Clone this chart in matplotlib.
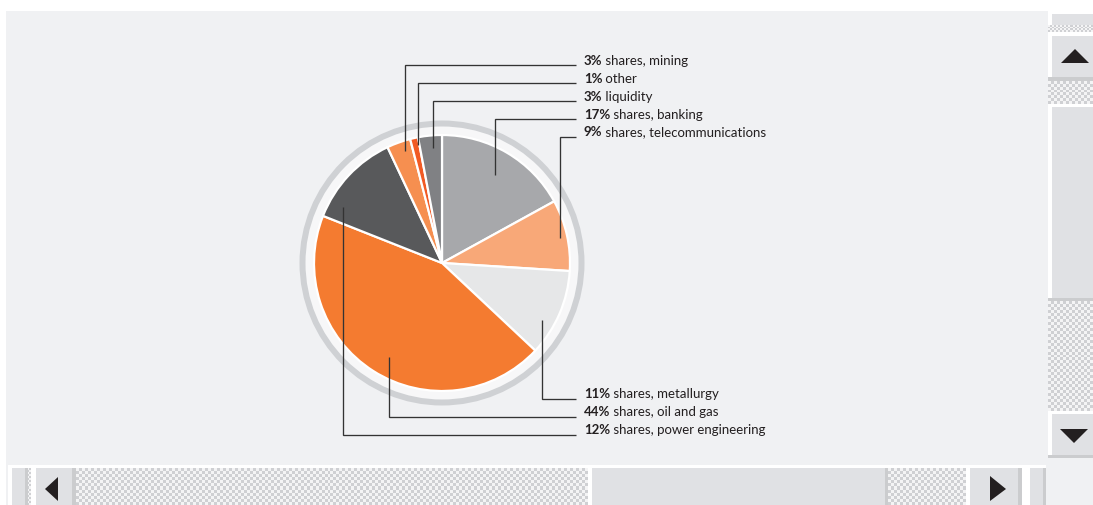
import numpy as np
import matplotlib
matplotlib.use("Agg")
import matplotlib.pyplot as plt
from matplotlib.patches import Rectangle, Circle, Polygon
from matplotlib.colors import ListedColormap

# ---- data -------------------------------------------------------------
categories = ["shares, banking", "shares, telecommunications", "shares, metallurgy",
              "shares, oil and gas", "shares, power engineering", "shares, mining",
              "other", "liquidity"]
shares = [17, 9, 11, 44, 12, 3, 1, 3]
colors = ["#a7a8ab", "#f8a878", "#e6e7e8", "#f47b30", "#58595b", "#f68f50",
          "#f15a24", "#808184"]

# label rows (pixel y from top) and where each leader line enters its wedge
label_rows = [114, 132, 394, 412, 430, 60, 78, 96]
leader_t = [0.51, 0.52, 0.66, 0.48, 0.18, 0.64, 0.80, 0.58]
leader_r = [0.80, 0.94, 0.90, 0.84, 0.89, 0.92, 0.94, 0.90]

W, H = 1093, 506
BG = "#f0f1f3"
LIGHT = "#e0e1e4"
EDGE = "#cbccce"
INK = "#231f20"

plt.rcParams["font.family"] = ["Lato", "DejaVu Sans"]

fig = plt.figure(figsize=(W / 100, H / 100), dpi=100, facecolor="white")
ax = fig.add_axes([0, 0, 1, 1])


def rect(x0, y0, x1, y1, color, z=0.1):
    ax.add_patch(Rectangle((x0, H - y1), x1 - x0, y1 - y0, facecolor=color,
                           edgecolor="none", zorder=z))


checker_cmap = ListedColormap(["#f4f4f5", "#cfd0d3"])


def checker(x0, y0, x1, y1, cell=3):
    nx = int(round((x1 - x0) / cell))
    ny = int(round((y1 - y0) / cell))
    jj, ii = np.meshgrid(np.arange(nx), np.arange(ny))
    arr = (ii + jj) % 2
    ax.imshow(arr, cmap=checker_cmap, interpolation="nearest", aspect="auto",
              extent=(x0, x1, H - y1, H - y0), zorder=0.2)


# ---- window frame --------------------------------------------------------
rect(6, 12, 1048, 466, BG, 0.05)
rect(1046, 459, W, H, BG, 0.05)
rect(6, 466, 12, H, BG, 0.05)

# vertical scrollbar
rect(1048, 12, W, 459, "white", 0.06)
rect(1052, 15, W, 26, LIGHT)
checker(1048, 26, W, 33, cell=2)
rect(1052, 37, W, 78, LIGHT)
rect(1048, 78, W, 82, EDGE)
checker(1048, 82, W, 105)
rect(1052, 108, W, 299, LIGHT)
rect(1048, 299, W, 302, EDGE)
checker(1048, 302, W, 412)
rect(1052, 415, W, 456, LIGHT)
rect(1048, 456, W, 459, EDGE)
ax.add_patch(Polygon([(1061, H - 64), (1089, H - 64), (1075, H - 50)],
                     facecolor=INK, edgecolor="none", zorder=0.3))
ax.add_patch(Polygon([(1060, H - 430), (1088, H - 430), (1074, H - 444)],
                     facecolor=INK, edgecolor="none", zorder=0.3))

# horizontal scrollbar
rect(8, 466, 1030, H, "white", 0.06)
rect(12, 469, 25, H, LIGHT)
rect(25, 469, 28, H, EDGE)
checker(28, 469, 31, H, cell=2)
rect(36, 469, 72, H, LIGHT)
rect(72, 469, 76, H, EDGE)
checker(76, 469, 588, H)
rect(592, 469, 888, H, LIGHT)
rect(885, 469, 888, H, EDGE)
checker(888, 469, 966, H)
rect(970, 469, 1018, H, LIGHT)
rect(1018, 469, 1022, H, EDGE)
rect(1030, 469, 1043, H, LIGHT)
rect(1043, 469, 1046, H, EDGE)
ax.add_patch(Polygon([(58, H - 478), (58, H - 502), (45, H - 490)],
                     facecolor=INK, edgecolor="none", zorder=0.3))
ax.add_patch(Polygon([(990, H - 477), (990, H - 502), (1006, H - 490)],
                     facecolor=INK, edgecolor="none", zorder=0.3))

# ---- pie -----------------------------------------------------------------
cx, cy, R = 442, H - 264, 128
ax.add_patch(Circle((cx, cy), 142.5, facecolor="#cfd1d4", edgecolor="none", zorder=0.5))
ax.add_patch(Circle((cx, cy), 136.5, facecolor="#f7f7f8", edgecolor="none", zorder=0.6))

ax.pie(shares, colors=colors, startangle=90, counterclock=False,
       center=(cx, cy), radius=R,
       wedgeprops=dict(edgecolor="white", linewidth=1.6))

# ---- leader lines and labels ---------------------------------------------
total = float(sum(shares))
start = 90.0
text_x, line_end = 584, 576
for cat, v, row, t, rf in zip(categories, shares, label_rows, leader_t, leader_r):
    span = 360.0 * v / total
    ang = np.deg2rad(start - t * span)
    start -= span
    ax_x = cx + rf * R * np.cos(ang)
    ax_y = cy + rf * R * np.sin(ang)
    ly = H - (row + 5.5)
    ax.plot([ax_x, ax_x, line_end], [ax_y, ly, ly], color="#333333", lw=0.95,
            solid_capstyle="butt", solid_joinstyle="miter", zorder=5)
    t1 = ax.text(text_x, ly + 1, f"{v}%", fontsize=9.5, fontweight="bold",
                 color=INK, va="baseline", ha="left", zorder=6)
    ax.annotate(" " + cat, xy=(1, 0), xycoords=t1, fontsize=9.5, color=INK,
                va="bottom", ha="left", zorder=6)

ax.set_xlim(0, W)
ax.set_ylim(0, H)
ax.set_aspect("auto")
ax.axis("off")

fig.savefig("out.png", dpi=100, facecolor="white")
